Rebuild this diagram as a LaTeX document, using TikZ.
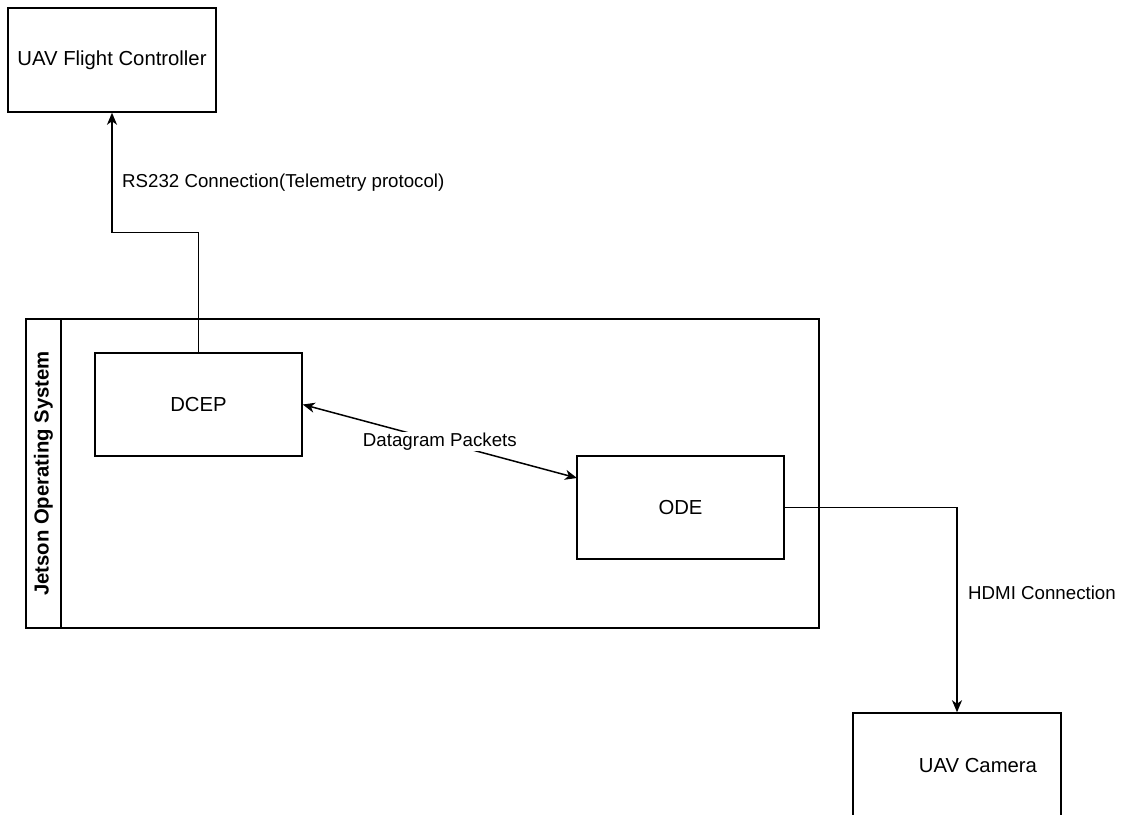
\documentclass[tikz,border=0pt]{standalone}
\usepackage{fontspec}
\setmainfont{Liberation Sans}
\usetikzlibrary{arrows.meta,calc}
\tikzset{
  box/.style={draw=black, line width=1.5pt, rectangle, inner sep=0pt,
    minimum width=207pt, minimum height=103pt,
    font=\fontsize{20.3}{24}\selectfont},
  conn/.style={draw=black, line width=1.5pt,
    -{Stealth[length=12pt,width=10pt,inset=3.5pt]}},
  biconn/.style={draw=black, line width=1.5pt,
    {Stealth[length=12pt,width=10pt,inset=3.5pt]}-{Stealth[length=12pt,width=10pt,inset=3.5pt]}},
  elabel/.style={font=\fontsize{18.7}{22}\selectfont, inner sep=1pt},
}
\begin{document}
\begin{tikzpicture}[x=1pt,y=-1pt]
\useasboundingbox (0,0) rectangle (1123,814);

% Jetson OS container with its title strip
\node[draw=black, line width=1.5pt, rectangle, inner sep=0pt,
      minimum width=793pt, minimum height=309pt] (jos) at (422.5,473.5) {};
\draw[line width=1.5pt] (61,319) -- (61,628);
\node[rotate=90, font=\bfseries\fontsize{20.3}{24}\selectfont] (jostitle) at (43.5,473.5) {Jetson Operating System};

% Components
\node[box, minimum width=208pt, minimum height=104pt] (fc) at (112,60) {UAV Flight Controller};
\node[box] (dcep) at (198.5,404.5) {DCEP};
\node[box] (ode) at (680.5,507.5) {ODE};
\node[box, minimum width=208pt, minimum height=104pt] (cam) at (957,765) {};
\node[font=\fontsize{20.3}{24}\selectfont] (camtext) at (978,765) {UAV Camera};

% Connectors
\draw[conn] (dcep.north) -- ++(0,-120) -| (fc.south);
\node[elabel, anchor=west] (rslabel) at (121,183) {RS232 Connection(Telemetry protocol)};

\coordinate (odein) at (577,478);
\draw[biconn] (dcep.east) -- (odein)
  node[midway, fill=white, elabel] (dglabel) {Datagram Packets};

\draw[conn] (ode.east) -| (cam.north);
\node[elabel, anchor=west] (hdmilabel) at (967,593) {HDMI Connection};
\end{tikzpicture}
\end{document}
